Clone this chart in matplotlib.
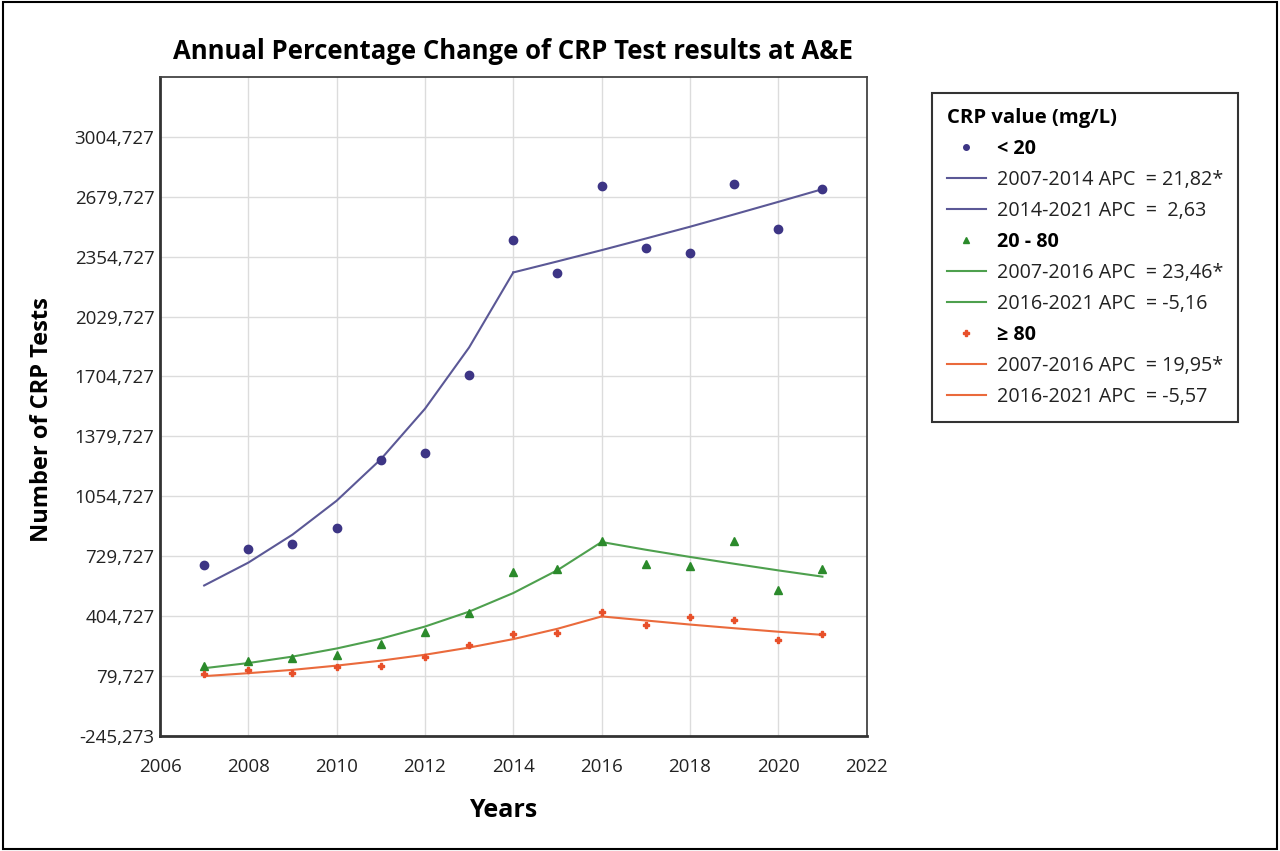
import matplotlib
matplotlib.use("Agg")
import matplotlib.pyplot as plt
from matplotlib.lines import Line2D
from matplotlib.patches import Rectangle
from matplotlib.ticker import FixedLocator, FuncFormatter

plt.rcParams['font.family'] = ['Open Sans', 'DejaVu Sans']

years = [2007, 2008, 2009, 2010, 2011, 2012, 2013, 2014, 2015, 2016, 2017, 2018, 2019, 2020, 2021]

low_obs = [682, 769, 795, 883, 1252, 1290, 1712, 2447, 2264, 2739, 2404, 2373, 2751, 2505, 2720]
low_fit = [570, 694, 846, 1030, 1255, 1529, 1862, 2269, 2329, 2390, 2453, 2517, 2584, 2652, 2721]
low_break = 2014

mid_obs = [135, 161, 179, 190, 252, 317, 420, 644, 662, 814, 688, 677, 813, 543, 661]
mid_fit = [121, 149, 184, 228, 281, 347, 428, 529, 653, 806, 764, 725, 688, 652, 618]
mid_break = 2016

high_obs = [92, 110, 97, 127, 134, 184, 246, 306, 313, 425, 353, 398, 385, 275, 308]
high_fit = [78, 94, 112, 135, 162, 194, 233, 279, 335, 402, 380, 358, 338, 319, 302]
high_break = 2016

legend_title = "CRP value (mg/L)"
group_labels = ["< 20", "20 - 80", "≥ 80"]
segment_labels = [
    ["2007-2014 APC  = 21,82*", "2014-2021 APC  =  2,63"],
    ["2007-2016 APC  = 23,46*", "2016-2021 APC  = -5,16"],
    ["2007-2016 APC  = 19,95*", "2016-2021 APC  = -5,57"],
]

yticks = [-245.273 + 325 * k for k in range(11)]
xticks = [2006, 2008, 2010, 2012, 2014, 2016, 2018, 2020, 2022]

fig = plt.figure(figsize=(12.8, 8.51), dpi=100)
ax = fig.add_axes([0.125, 0.1355, 0.552, 0.774])

marker_colors = ["#3d3585", "#2b8a2b", "#e8502a"]
line_colors = ["#5b5896", "#4ea04e", "#ea6a3c"]
markers = ["o", "^", "P"]
msizes = [6, 6, 5]

groups = [(low_obs, low_fit, low_break), (mid_obs, mid_fit, mid_break), (high_obs, high_fit, high_break)]
handles = []
labels = []
for i, (obs, fit, brk) in enumerate(groups):
    k = years.index(brk)
    ax.plot(years, obs, linestyle='none', marker=markers[i], markersize=msizes[i],
            color=marker_colors[i], zorder=3)
    ax.plot(years[:k + 1], fit[:k + 1], color=line_colors[i], lw=1.5, zorder=2)
    ax.plot(years[k:], fit[k:], color=line_colors[i], lw=1.5, zorder=2)
    handles.append(Line2D([], [], linestyle='none', marker=markers[i], markersize=4,
                          color=marker_colors[i]))
    labels.append(group_labels[i])
    for s in segment_labels[i]:
        handles.append(Line2D([], [], color=line_colors[i], lw=1.5))
        labels.append(s)

ax.set_xlim(2006, 2022)
ax.set_ylim(-245.273, 3329.727)
ax.yaxis.set_major_locator(FixedLocator(yticks))
ax.yaxis.set_major_formatter(FuncFormatter(lambda v, p: f"{v:.3f}".replace('.', ',')))
ax.set_xticks(xticks)
ax.grid(True, color="#dcdcdc", lw=1)
ax.set_axisbelow(True)
ax.tick_params(axis='y', length=0, pad=4, labelsize=13.5, labelcolor="#222222")
ax.tick_params(axis='x', length=0, pad=16, labelsize=13.5, labelcolor="#222222")
for side in ['left', 'bottom']:
    ax.spines[side].set_linewidth(2)
    ax.spines[side].set_color("#333333")
for side in ['top', 'right']:
    ax.spines[side].set_linewidth(1.3)
    ax.spines[side].set_color("#444444")

ax.set_title("Annual Percentage Change of CRP Test results at A&E", fontsize=18.5,
             fontweight='bold', pad=13)
ax.set_xlabel("Years", fontsize=18, fontweight='bold')
ax.xaxis.set_label_coords(0.485, -0.095)
ax.set_ylabel("Number of CRP Tests", fontsize=17, fontweight='bold')
ax.yaxis.set_label_coords(-0.15, 0.48)

leg = fig.legend(handles, labels, loc='upper left', bbox_to_anchor=(0.728, 0.8907),
                 borderaxespad=0, frameon=True, fancybox=False, edgecolor='black',
                 fontsize=14.2, title=legend_title,
                 title_fontproperties={'weight': 'bold', 'size': 14.6},
                 alignment='left', handlelength=2.0, labelspacing=0.56,
                 borderpad=0.75, handletextpad=0.55)
leg.get_frame().set_linewidth(1.5)
for i, t in enumerate(leg.get_texts()):
    t.set_color("#222222")
    if labels[i] in group_labels:
        t.set_fontweight('bold')
        t.set_color("black")

fig.patches.append(Rectangle((0.002, 0.002), 0.996, 0.996, transform=fig.transFigure,
                             fill=False, edgecolor='black', lw=1.5))

fig.savefig("out.png", dpi=100)
